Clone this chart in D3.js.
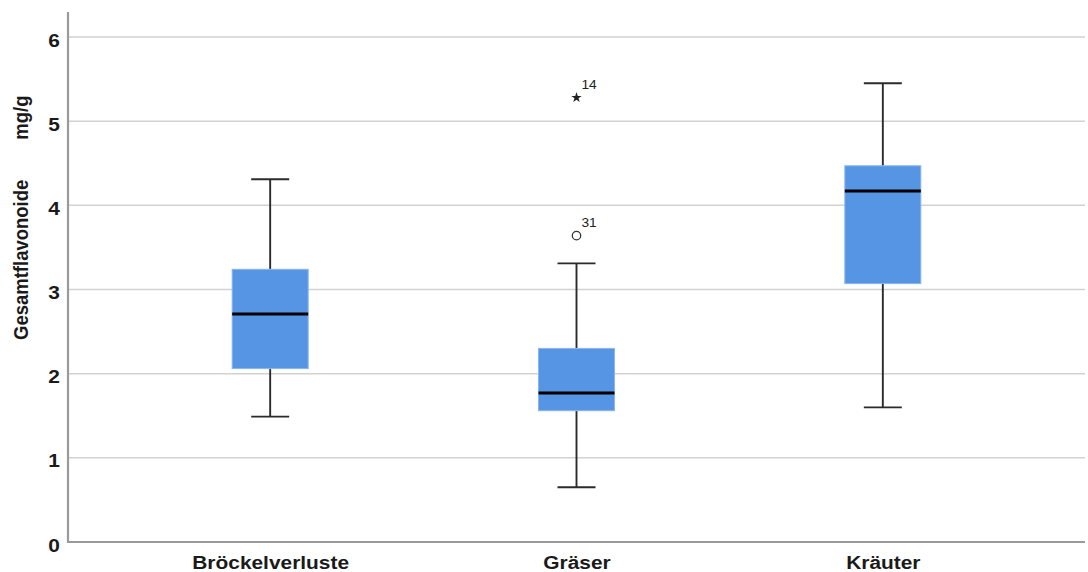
<!DOCTYPE html>
<html>
<head>
<meta charset="utf-8">
<script src="https://cdn.jsdelivr.net/npm/d3@7"></script>
<style>
  html, body { margin: 0; padding: 0; background: #fff; }
  svg { display: block; }
  text { font-family: "Liberation Sans", Arial, sans-serif; }
</style>
</head>
<body>
<svg id="chart" width="1088" height="572"></svg>
<script>
// Gesamtflavonoide (mg/g) by group: five-number summaries plus flagged cases
const categories = ["Bröckelverluste", "Gräser", "Kräuter"];
const whiskerLow  = [1.49, 0.65, 1.60];
const q1          = [2.06, 1.56, 3.07];
const median      = [2.71, 1.77, 4.17];
const q3          = [3.24, 2.30, 4.47];
const whiskerHigh = [4.31, 3.31, 5.45];

// outliers: circle = mild outlier, star = extreme value
const outlierGroup = ["Gräser", "Gräser"];
const outlierValue = [3.64, 5.28];
const outlierCase  = ["31", "14"];
const outlierKind  = ["circle", "star"];

const yTicks = [0, 1, 2, 3, 4, 5, 6];
const yLabelMain = "Gesamtflavonoide";
const yLabelUnit = "mg/g";

const svg = d3.select("#chart");
const plotLeft = 68, plotRight = 1085, plotTop = 12, plotBottom = 542;
const widen = "scale(1.1,1)";

const x = d3.scalePoint().domain(categories).range([plotLeft, plotRight]).padding(0.66);
const y = d3.scaleLinear().domain([0, 6]).range([plotBottom, 37]);

const boxW = 76, capW = 38;

// gridlines
svg.append("g").selectAll("line").data(yTicks.filter(d => d > 0)).join("line")
  .attr("x1", plotLeft).attr("x2", plotRight)
  .attr("y1", d => y(d)).attr("y2", d => y(d))
  .attr("stroke", "#d2d2d2").attr("stroke-width", 1.5);

// y axis tick labels
const yAxis = d3.axisLeft(y).tickValues(yTicks).tickSize(0).tickPadding(7.3).tickFormat(d3.format("d"));
const gy = svg.append("g").attr("transform", `translate(${plotLeft},0)`).call(yAxis);
gy.select(".domain").remove();
gy.selectAll("text")
  .attr("font-size", 19).attr("font-weight", "bold").attr("fill", "#1a1a1a")
  .attr("dy", "0.48em").attr("transform", widen);

// x axis labels
const xAxis = d3.axisBottom(x).tickSize(0).tickPadding(13.5);
const gx = svg.append("g").attr("transform", `translate(0,${plotBottom})`).call(xAxis);
gx.select(".domain").remove();
gx.selectAll("text")
  .attr("font-size", 19).attr("font-weight", "bold").attr("fill", "#1a1a1a")
  .attr("transform", widen);

// frame lines
svg.append("line").attr("x1", plotLeft).attr("x2", plotLeft).attr("y1", plotTop).attr("y2", plotBottom)
  .attr("stroke", "#9a9a9a").attr("stroke-width", 2.2);
svg.append("line").attr("x1", plotLeft - 1).attr("x2", plotRight).attr("y1", plotBottom).attr("y2", plotBottom)
  .attr("stroke", "#9a9a9a").attr("stroke-width", 2.2);

// y axis title
const yTitle = svg.append("text")
  .attr("transform", `translate(28,340) ${widen} rotate(-90)`)
  .attr("text-anchor", "start")
  .attr("font-size", 18.5).attr("font-weight", "bold").attr("fill", "#1a1a1a");
yTitle.append("tspan").text(yLabelMain);
yTitle.append("tspan").attr("dx", 40).text(yLabelUnit);

const stats = categories.map((c, i) => ({
  c, lo: whiskerLow[i], q1: q1[i], med: median[i], q3: q3[i], hi: whiskerHigh[i]
}));

const g = svg.append("g").selectAll("g").data(stats).join("g");
const wStroke = "#2b2b2b";

// whisker stems
g.append("line").attr("x1", d => x(d.c)).attr("x2", d => x(d.c))
  .attr("y1", d => y(d.hi)).attr("y2", d => y(d.q3))
  .attr("stroke", wStroke).attr("stroke-width", 1.9);
g.append("line").attr("x1", d => x(d.c)).attr("x2", d => x(d.c))
  .attr("y1", d => y(d.q1)).attr("y2", d => y(d.lo))
  .attr("stroke", wStroke).attr("stroke-width", 1.9);
// caps
g.append("line").attr("x1", d => x(d.c) - capW / 2).attr("x2", d => x(d.c) + capW / 2)
  .attr("y1", d => y(d.hi)).attr("y2", d => y(d.hi))
  .attr("stroke", wStroke).attr("stroke-width", 1.9);
g.append("line").attr("x1", d => x(d.c) - capW / 2).attr("x2", d => x(d.c) + capW / 2)
  .attr("y1", d => y(d.lo)).attr("y2", d => y(d.lo))
  .attr("stroke", wStroke).attr("stroke-width", 1.9);
// boxes
g.append("rect")
  .attr("x", d => x(d.c) - boxW / 2).attr("width", boxW)
  .attr("y", d => y(d.q3)).attr("height", d => y(d.q1) - y(d.q3))
  .attr("fill", "#5595e3").attr("stroke", "#8ab6ee").attr("stroke-width", 1);
// medians
g.append("line").attr("x1", d => x(d.c) - boxW / 2).attr("x2", d => x(d.c) + boxW / 2)
  .attr("y1", d => y(d.med)).attr("y2", d => y(d.med))
  .attr("stroke", "#000").attr("stroke-width", 3);

// outliers
const outs = outlierValue.map((v, i) => ({ c: outlierGroup[i], v, id: outlierCase[i], kind: outlierKind[i] }));
const og = svg.append("g").selectAll("g").data(outs).join("g")
  .attr("transform", d => `translate(${x(d.c)},${y(d.v)})`);
og.filter(d => d.kind === "circle").append("circle")
  .attr("r", 4.2).attr("fill", "#fff").attr("stroke", "#333").attr("stroke-width", 1.3);
og.filter(d => d.kind === "star").append("path")
  .attr("d", d3.symbol(d3.symbolStar, 34)())
  .attr("fill", "#222");
og.append("text")
  .attr("x", 4.5).attr("y", -9)
  .attr("font-size", 12.5).attr("fill", "#222")
  .attr("transform", widen)
  .text(d => d.id);
</script>
</body>
</html>
